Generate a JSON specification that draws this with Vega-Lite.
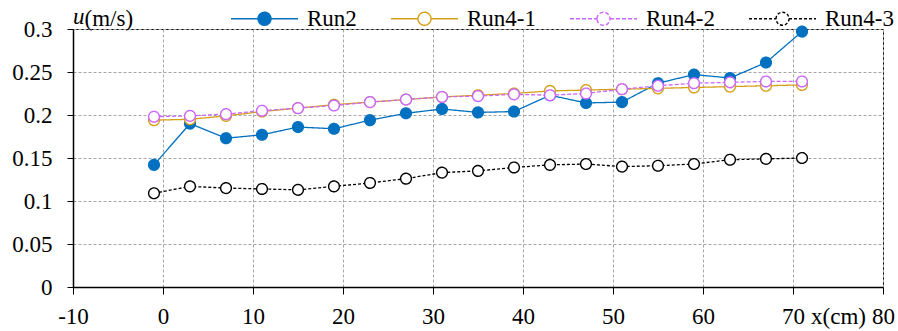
{
  "$schema": "https://vega.github.io/schema/vega-lite/v6.json",
  "width": 810,
  "height": 258,
  "autosize": {"type": "none"},
  "padding": {"left": 73, "top": 29, "right": 15, "bottom": 44},
  "background": "white",
  "title": {
    "text": "u",
    "anchor": "start",
    "frame": "group",
    "font": "Liberation Serif",
    "fontSize": 23,
    "fontStyle": "italic",
    "fontWeight": "normal",
    "color": "black",
    "baseline": "alphabetic",
    "offset": 0,
    "dx": 0,
    "dy": 63
  },
  "config": {
    "font": "Liberation Serif",
    "view": {"stroke": "black", "strokeWidth": 1},
    "axis": {
      "labelFont": "Liberation Serif",
      "labelFontSize": 23,
      "labelColor": "black",
      "titleFont": "Liberation Serif",
      "titleFontSize": 23,
      "titleFontWeight": "normal",
      "titleColor": "black",
      "domainColor": "black",
      "domainWidth": 1.5,
      "tickColor": "black",
      "tickWidth": 1,
      "gridColor": "#A6A6A6",
      "gridDash": [3, 2],
      "gridWidth": 1
    },
    "legend": {
      "labelFont": "Liberation Serif",
      "labelFontSize": 23,
      "labelColor": "black"
    }
  },
  "data": {
    "values": [
      {"x": -1, "u": 0.142, "run": "Run2"},
      {"x": 3, "u": 0.190, "run": "Run2"},
      {"x": 7, "u": 0.173, "run": "Run2"},
      {"x": 11, "u": 0.177, "run": "Run2"},
      {"x": 15, "u": 0.186, "run": "Run2"},
      {"x": 19, "u": 0.184, "run": "Run2"},
      {"x": 23, "u": 0.194, "run": "Run2"},
      {"x": 27, "u": 0.202, "run": "Run2"},
      {"x": 31, "u": 0.207, "run": "Run2"},
      {"x": 35, "u": 0.203, "run": "Run2"},
      {"x": 39, "u": 0.204, "run": "Run2"},
      {"x": 43, "u": 0.223, "run": "Run2"},
      {"x": 47, "u": 0.214, "run": "Run2"},
      {"x": 51, "u": 0.215, "run": "Run2"},
      {"x": 55, "u": 0.237, "run": "Run2"},
      {"x": 59, "u": 0.247, "run": "Run2"},
      {"x": 63, "u": 0.243, "run": "Run2"},
      {"x": 67, "u": 0.261, "run": "Run2"},
      {"x": 71, "u": 0.297, "run": "Run2"},
      {"x": -1, "u": 0.194, "run": "Run4-1"},
      {"x": 3, "u": 0.195, "run": "Run4-1"},
      {"x": 7, "u": 0.199, "run": "Run4-1"},
      {"x": 11, "u": 0.204, "run": "Run4-1"},
      {"x": 15, "u": 0.208, "run": "Run4-1"},
      {"x": 19, "u": 0.212, "run": "Run4-1"},
      {"x": 23, "u": 0.215, "run": "Run4-1"},
      {"x": 27, "u": 0.218, "run": "Run4-1"},
      {"x": 31, "u": 0.221, "run": "Run4-1"},
      {"x": 35, "u": 0.223, "run": "Run4-1"},
      {"x": 39, "u": 0.225, "run": "Run4-1"},
      {"x": 43, "u": 0.228, "run": "Run4-1"},
      {"x": 47, "u": 0.229, "run": "Run4-1"},
      {"x": 51, "u": 0.230, "run": "Run4-1"},
      {"x": 55, "u": 0.231, "run": "Run4-1"},
      {"x": 59, "u": 0.232, "run": "Run4-1"},
      {"x": 63, "u": 0.233, "run": "Run4-1"},
      {"x": 67, "u": 0.234, "run": "Run4-1"},
      {"x": 71, "u": 0.235, "run": "Run4-1"},
      {"x": -1, "u": 0.198, "run": "Run4-2"},
      {"x": 3, "u": 0.199, "run": "Run4-2"},
      {"x": 7, "u": 0.201, "run": "Run4-2"},
      {"x": 11, "u": 0.205, "run": "Run4-2"},
      {"x": 15, "u": 0.208, "run": "Run4-2"},
      {"x": 19, "u": 0.211, "run": "Run4-2"},
      {"x": 23, "u": 0.215, "run": "Run4-2"},
      {"x": 27, "u": 0.218, "run": "Run4-2"},
      {"x": 31, "u": 0.221, "run": "Run4-2"},
      {"x": 35, "u": 0.222, "run": "Run4-2"},
      {"x": 39, "u": 0.224, "run": "Run4-2"},
      {"x": 43, "u": 0.223, "run": "Run4-2"},
      {"x": 47, "u": 0.225, "run": "Run4-2"},
      {"x": 51, "u": 0.230, "run": "Run4-2"},
      {"x": 55, "u": 0.234, "run": "Run4-2"},
      {"x": 59, "u": 0.237, "run": "Run4-2"},
      {"x": 63, "u": 0.238, "run": "Run4-2"},
      {"x": 67, "u": 0.239, "run": "Run4-2"},
      {"x": 71, "u": 0.239, "run": "Run4-2"},
      {"x": -1, "u": 0.109, "run": "Run4-3"},
      {"x": 3, "u": 0.117, "run": "Run4-3"},
      {"x": 7, "u": 0.115, "run": "Run4-3"},
      {"x": 11, "u": 0.114, "run": "Run4-3"},
      {"x": 15, "u": 0.113, "run": "Run4-3"},
      {"x": 19, "u": 0.117, "run": "Run4-3"},
      {"x": 23, "u": 0.121, "run": "Run4-3"},
      {"x": 27, "u": 0.126, "run": "Run4-3"},
      {"x": 31, "u": 0.133, "run": "Run4-3"},
      {"x": 35, "u": 0.135, "run": "Run4-3"},
      {"x": 39, "u": 0.139, "run": "Run4-3"},
      {"x": 43, "u": 0.142, "run": "Run4-3"},
      {"x": 47, "u": 0.143, "run": "Run4-3"},
      {"x": 51, "u": 0.140, "run": "Run4-3"},
      {"x": 55, "u": 0.141, "run": "Run4-3"},
      {"x": 59, "u": 0.143, "run": "Run4-3"},
      {"x": 63, "u": 0.148, "run": "Run4-3"},
      {"x": 67, "u": 0.149, "run": "Run4-3"},
      {"x": 71, "u": 0.150, "run": "Run4-3"}
    ]
  },
  "encoding": {
    "x": {
      "field": "x",
      "type": "quantitative",
      "scale": {"domain": [-10, 80], "nice": false, "zero": false},
      "axis": {
        "values": [-10, 0, 10, 20, 30, 40, 50, 60, 70, 80],
        "labelExpr": "'' + datum.value",
        "labelFont": "Liberation Serif",
        "labelFontSize": 23,
        "tickSize": 7,
        "labelPadding": 11,
        "labelFlush": false,
        "title": "x(cm)",
        "titleFont": "Liberation Serif",
        "titleX": 765,
        "titleY": 36,
        "titleAlign": "center",
        "titleBaseline": "alphabetic",
        "titleAnchor": null
      }
    },
    "y": {
      "field": "u",
      "type": "quantitative",
      "scale": {"domain": [0, 0.3], "nice": false},
      "axis": {
        "values": [0, 0.05, 0.1, 0.15, 0.2, 0.25, 0.3],
        "format": "~g",
        "labelFont": "Liberation Serif",
        "labelFontSize": 23,
        "tickSize": 6,
        "labelPadding": 15,
        "labelFlush": false,
        "title": "(m/s)",
        "titleFont": "Liberation Serif",
        "titleAngle": 0,
        "titleX": 11,
        "titleY": -4,
        "titleAlign": "left",
        "titleBaseline": "alphabetic",
        "titleAnchor": null
      }
    },
    "stroke": {
      "field": "run",
      "type": "nominal",
      "scale": {
        "domain": ["Run2", "Run4-1", "Run4-2", "Run4-3"],
        "range": ["#0070C0", "#D4A017", "#CC66FF", "#000000"]
      },
      "legend": {
        "orient": "none",
        "direction": "horizontal",
        "legendX": 157,
        "legendY": -45,
        "title": null,
        "labelFont": "Liberation Serif",
        "labelFontSize": 23,
        "symbolType": "M-1,0H-0.194M0.194,0H1M-0.194,0A0.194,0.194 0 1,1 0.194,0A0.194,0.194 0 1,1 -0.194,0",
        "symbolSize": 4489,
        "symbolStrokeWidth": 1.4,
        "labelOffset": 8,
        "columnPadding": 31
      }
    },
    "strokeDash": {
      "field": "run",
      "type": "nominal",
      "scale": {
        "domain": ["Run2", "Run4-1", "Run4-2", "Run4-3"],
        "range": [[1, 0], [1, 0], [4, 2], [3, 2]]
      }
    }
  },
  "layer": [
    {
      "mark": {"type": "line", "strokeWidth": 1.3}
    },
    {
      "mark": {"type": "point", "shape": "circle", "size": 115, "strokeWidth": 1.4, "opacity": 1},
      "encoding": {
        "strokeDash": {"value": [1, 0]},
        "fill": {
          "field": "run",
          "type": "nominal",
          "scale": {
            "domain": ["Run2", "Run4-1", "Run4-2", "Run4-3"],
            "range": ["#0070C0", "#FFFFFF", "#FFFFFF", "#FFFFFF"]
          }
        }
      }
    }
  ]
}
